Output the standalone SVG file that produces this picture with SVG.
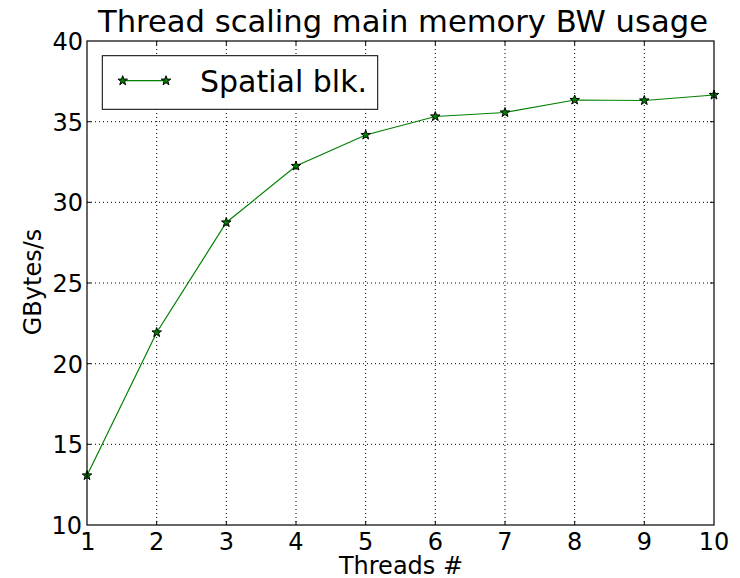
<svg xmlns="http://www.w3.org/2000/svg" width="740" height="578" viewBox="0 0 740 578">
<defs>
<style>
.t{font-family:"DejaVu Sans",sans-serif;fill:#000}
.tick{font-size:24px}
.grid{stroke:#000;stroke-width:1;stroke-dasharray:1,3;fill:none}
.tk{stroke:#000;stroke-width:1}
</style>
<path id="star" d="M0,-5 L1.18,-1.62 L4.76,-1.55 L1.9,0.62 L2.94,4.05 L0,2 L-2.94,4.05 L-1.9,0.62 L-4.76,-1.55 L-1.18,-1.62 Z" fill="#008000" stroke="#000" stroke-width="1"/>
</defs>
<rect width="740" height="578" fill="#fff"/>
<g id="grid">
<path class="grid" d="M156.7,41V525M226.3,41V525M296,41V525M365.7,41V525M435.3,41V525M505,41V525M574.7,41V525M644.3,41V525"/>
<path class="grid" d="M87,444.3H714M87,363.7H714M87,283H714M87,202.3H714M87,121.7H714"/>
</g>
<g id="ticks">
<path class="tk" d="M156.7,525v-4M226.3,525v-4M296,525v-4M365.7,525v-4M435.3,525v-4M505,525v-4M574.7,525v-4M644.3,525v-4M156.7,41v4M226.3,41v4M296,41v4M365.7,41v4M435.3,41v4M505,41v4M574.7,41v4M644.3,41v4"/>
<path class="tk" d="M87,444.3h4M87,363.7h4M87,283h4M87,202.3h4M87,121.7h4M714,444.3h-4M714,363.7h-4M714,283h-4M714,202.3h-4M714,121.7h-4"/>
</g>
<g id="series">
<polyline points="87,475.5 156.7,332.5 226.3,222.5 296,166 365.7,135 435.3,116.5 505,112.5 574.7,100 644.3,100.5 714,95" fill="none" stroke="#008000" stroke-width="1.2"/>
<use href="#star" x="87" y="475.5"/>
<use href="#star" x="156.7" y="332.5"/>
<use href="#star" x="226.3" y="222.5"/>
<use href="#star" x="296" y="166"/>
<use href="#star" x="365.7" y="135"/>
<use href="#star" x="435.3" y="116.5"/>
<use href="#star" x="505" y="112.5"/>
<use href="#star" x="574.7" y="100"/>
<use href="#star" x="644.3" y="100.5"/>
<use href="#star" x="714" y="95"/>
</g>
<rect id="axes" x="87" y="41" width="627" height="484" fill="none" stroke="#000" stroke-width="1.2"/>
<g id="xlabels" class="t tick" text-anchor="middle">
<text x="88" y="550">1</text><text x="156.7" y="550">2</text><text x="226.3" y="550">3</text><text x="296" y="550">4</text><text x="365.7" y="550">5</text><text x="435.3" y="550">6</text><text x="505" y="550">7</text><text x="574.7" y="550">8</text><text x="644.3" y="550">9</text><text x="714" y="550">10</text>
</g>
<g id="ylabels" class="t tick" text-anchor="end">
<text x="82" y="534">10</text><text x="83" y="453">15</text><text x="83" y="372.5">20</text><text x="83" y="292">25</text><text x="83" y="211">30</text><text x="83" y="130.5">35</text><text x="83" y="50">40</text>
</g>
<text class="t" x="403" y="32" font-size="30" text-anchor="middle" textLength="610" lengthAdjust="spacingAndGlyphs">Thread scaling main memory BW usage</text>
<text class="t" x="401" y="574" font-size="24" text-anchor="middle">Threads #</text>
<text class="t" font-size="24" text-anchor="middle" transform="translate(41,282) rotate(-90)">GBytes/s</text>
<g id="legend">
<rect x="102.3" y="55.7" width="275.4" height="53.6" fill="#fff" stroke="#000" stroke-width="1"/>
<line x1="122.7" y1="80.7" x2="166" y2="80.7" stroke="#008000" stroke-width="1.2"/>
<use href="#star" x="122.7" y="80.7"/>
<use href="#star" x="166" y="80.7"/>
<text class="t" x="200" y="92" font-size="30">Spatial blk.</text>
</g>
</svg>
